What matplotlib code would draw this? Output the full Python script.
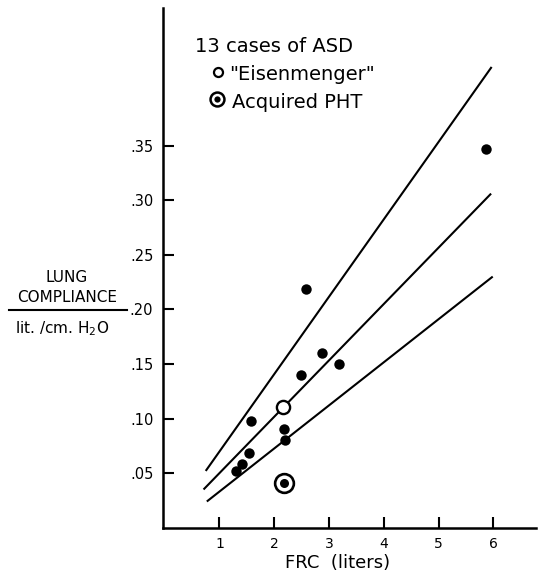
import matplotlib
matplotlib.use("Agg")
import matplotlib.pyplot as plt
from matplotlib.lines import Line2D

# 13 cases of ASD: FRC (liters) vs lung compliance (lit./cm H2O)
frc_asd = [1.30, 1.41, 1.54, 1.58, 2.18, 2.19, 2.49, 2.58, 2.88, 3.19, 5.87]
comp_asd = [0.052, 0.058, 0.068, 0.098, 0.090, 0.080, 0.140, 0.219, 0.160, 0.150, 0.347]

frc_eisen = [2.17]
comp_eisen = [0.111]

frc_pht = [2.18]
comp_pht = [0.041]

# the three reference lines (start / end)
line_x0 = [0.75, 0.71, 0.77]
line_x1 = [5.97, 5.96, 5.99]
line_y0 = [0.052, 0.035, 0.024]
line_y1 = [0.422, 0.306, 0.230]

xticks = [1, 2, 3, 4, 5, 6]
xtick_labels = ["1", "2", "3", "4", "5", "6"]
yticks = [0.05, 0.10, 0.15, 0.20, 0.25, 0.30, 0.35]
ytick_labels = [".05", ".10", ".15", ".20", ".25", ".30", ".35"]

W, H = 541, 573
fig = plt.figure(figsize=(W / 100, H / 100), dpi=100)
ax = fig.add_axes([163 / W, 1 - 527.7 / H, (536 - 163) / W, (527.7 - 8) / H])

for x0, x1, y0, y1 in zip(line_x0, line_x1, line_y0, line_y1):
    ax.plot([x0, x1], [y0, y1], color="black", lw=1.5, solid_capstyle="butt")

ax.plot(frc_asd, comp_asd, "o", color="black", ms=7.5, mew=0)
ax.plot(frc_eisen, comp_eisen, "o", mfc="white", mec="black", ms=9.5, mew=1.7)
ax.plot(frc_pht, comp_pht, "o", mfc="white", mec="black", ms=13.5, mew=1.9)
ax.plot(frc_pht, comp_pht, "o", color="black", ms=6.5, mew=0)

ax.set_xlim(-0.03, 6.78)
ax.set_ylim(0, 0.476)
ax.set_xticks(xticks)
ax.set_xticklabels(xtick_labels)
ax.set_yticks(yticks)
ax.set_yticklabels(ytick_labels)
ax.tick_params(axis="both", direction="in", length=8, width=1.5)
ax.tick_params(axis="x", labelsize=10, pad=7)
ax.tick_params(axis="y", labelsize=10.5, pad=7)
for side in ["top", "right"]:
    ax.spines[side].set_visible(False)
for side in ["left", "bottom"]:
    ax.spines[side].set_linewidth(1.8)

fig.text(338 / W, 1 - 562.7 / H, "FRC  (liters)", fontsize=13,
         ha="center", va="center")

# y label drawn as a fraction
fig.text(67 / W, 1 - 281.7 / H, "LUNG", fontsize=11, ha="center", va="baseline")
fig.text(67 / W, 1 - 301.7 / H, "COMPLIANCE", fontsize=11, ha="center", va="baseline")
fig.add_artist(Line2D([9.3 / W, 127.3 / W], [1 - 310.3 / H, 1 - 310.3 / H],
                      color="black", lw=1.5))
fig.text(62 / W, 1 - 333.3 / H, "lit. /cm. H$_2$O", fontsize=11,
         ha="center", va="baseline")

# legend block
fig.text(195 / W, 1 - 51.7 / H, "13 cases of ASD", fontsize=14, va="baseline")
fig.add_artist(Line2D([218 / W], [1 - 71.7 / H], marker="o", mfc="white",
                      mec="black", ms=6.5, mew=1.6))
fig.text(229 / W, 1 - 80 / H, '"Eisenmenger"', fontsize=14, va="baseline")
fig.add_artist(Line2D([217.3 / W], [1 - 99.3 / H], marker="o", mfc="white",
                      mec="black", ms=10, mew=1.8))
fig.add_artist(Line2D([217.3 / W], [1 - 99.3 / H], marker="o", color="black",
                      ms=4.5, mew=0))
fig.text(231.7 / W, 1 - 108 / H, "Acquired PHT", fontsize=14, va="baseline")

fig.savefig("out.png", dpi=100)
